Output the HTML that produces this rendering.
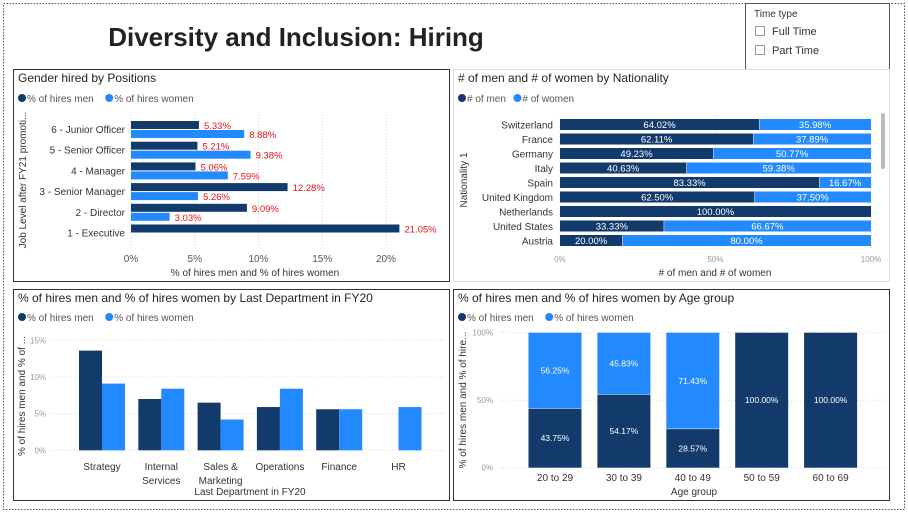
<!DOCTYPE html>
<html><head><meta charset="utf-8">
<style>
html,body{margin:0;padding:0;background:#fff;}
body{width:908px;height:514px;position:relative;overflow:hidden;font-family:"Liberation Sans",sans-serif;}
svg{position:absolute;left:0;top:0;}
text{font-family:"Liberation Sans",sans-serif;}
</style></head>
<body>
<svg id="s" width="908" height="514">
  <rect x="3.5" y="3.5" width="901" height="506" fill="none" stroke="#555" stroke-dasharray="1.5,1.5"/>
  <text x="296" y="46" text-anchor="middle" font-size="26" font-weight="bold" fill="#222">Diversity and Inclusion: Hiring</text>
  <g>
    <rect x="745.5" y="3.5" width="144" height="66" fill="#fff" stroke="#555"/>
    <text x="754" y="17" font-size="10" fill="#333">Time type</text>
    <rect x="755.5" y="26.5" width="9" height="9" fill="#fff" stroke="#999"/>
    <text x="772" y="35" font-size="11" fill="#333">Full Time</text>
    <rect x="755.5" y="45.5" width="9" height="9" fill="#fff" stroke="#999"/>
    <text x="772" y="54" font-size="11" fill="#333">Part Time</text>
  </g>
  <rect x="13.5" y="69.5" width="436" height="212" fill="none" stroke="#333"/>
  <rect x="453.5" y="69.5" width="436" height="212" fill="none" stroke="#ddd"/>
  <rect x="13.5" y="289.5" width="436" height="211" fill="none" stroke="#333"/>
  <rect x="453.5" y="289.5" width="436" height="211" fill="none" stroke="#333"/>
  <g id="g1"></g><g id="g2"></g><g id="g3"></g><g id="g4"></g>
</svg>
<script>
// Chart 1: positions
const posCats = ["6 - Junior Officer","5 - Senior Officer","4 - Manager","3 - Senior Manager","2 - Director","1 - Executive"];
const posMen = [5.33,5.21,5.06,12.28,9.09,21.05];
const posWomen = [8.88,9.38,7.59,5.26,3.03,null];
const posTicks = [0,5,10,15,20];
// Chart 2: nationality
const natCats = ["Switzerland","France","Germany","Italy","Spain","United Kingdom","Netherlands","United States","Austria"];
const natMen = [64.02,62.11,49.23,40.63,83.33,62.50,100,33.33,20.00];
const natWomen = [35.98,37.89,50.77,59.38,16.67,37.50,0,66.67,80.00];
const natTicks = [0,50,100];
// Chart 3: department
const depCats = [["Strategy"],["Internal","Services"],["Sales &","Marketing"],["Operations"],["Finance"],["HR"]];
const depMen = [13.6,7.0,6.5,5.9,5.6,null];
const depWomen = [9.1,8.4,4.2,8.4,5.6,5.9];
const depTicks = [0,5,10,15];
// Chart 4: age
const ageCats = ["20 to 29","30 to 39","40 to 49","50 to 59","60 to 69"];
const ageMen = [43.75,54.17,28.57,100,100];
const ageWomen = [56.25,45.83,71.43,0,0];
const ageTicks = [0,50,100];

const DARK="#123a6b", LIGHT="#2389ff", NS="http://www.w3.org/2000/svg";
function mk(parent,tag,attrs,txt){const e=document.createElementNS(NS,tag);for(const k in attrs)e.setAttribute(k,attrs[k]);if(txt!==undefined)e.textContent=txt;parent.appendChild(e);return e;}
function legend(g,x,y,a,b){
  let c=mk(g,"circle",{cx:x+4,cy:y-4,r:4,fill:DARK});
  
  
  let t=mk(g,"text",{x:x+9,y:y,"font-size":10,fill:"#555"},a);
  
  
  const w=a.length*5.3+13;
  c=mk(g,"circle",{cx:x+w+4,cy:y-4,r:4,fill:LIGHT});
  
  
  t=mk(g,"text",{x:x+w+9,y:y,"font-size":10,fill:"#555"},b);
  
  
}
function title(g,x,y,s){const t=mk(g,"text",{x:x,y:y,"font-size":12,fill:"#252423"},s);
  
  }
function vtitle(g,x,y,s){const t=mk(g,"text",{x:x,y:y,"font-size":10,fill:"#333","text-anchor":"middle",transform:`rotate(-90 ${x} ${y})`},s);
  
  }
function htitle(g,x,y,s){const t=mk(g,"text",{x:x,y:y,"font-size":10,fill:"#333","text-anchor":"middle"},s);
  
  }

// ---- Chart 1
(function(){
  const g=document.getElementById("g1");
  title(g,18,82,"Gender hired by Positions");
  legend(g,18,102,"% of hires men","% of hires women");
  const x=v=>131+v*12.75, rowY=i=>121+i*20.7;
  posTicks.forEach(t=>{
    const l=mk(g,"line",{x1:x(t),x2:x(t),y1:115,y2:245,stroke:"#ccc","stroke-dasharray":"1,2"});
    
    
    const tx=mk(g,"text",{x:x(t),y:262,"font-size":10,fill:"#555","text-anchor":"middle"},t+"%");
    
    
  });
  posCats.forEach((c,i)=>{
    const y=rowY(i);
    const lb=mk(g,"text",{x:125,y:y+12,"font-size":10,fill:"#333","text-anchor":"end"},c);
    
    
    const m=posMen[i];
    const r=mk(g,"rect",{x:x(0),y:y,width:x(m)-x(0),height:8,fill:DARK});
    
    
    const lt=mk(g,"text",{x:x(m)+5,y:y+8,"font-size":9.5,fill:"#e8101b"},m.toFixed(2)+"%");
    
    
    const w=posWomen[i];
    if(w!=null){
      const r2=mk(g,"rect",{x:x(0),y:y+9,width:x(w)-x(0),height:8,fill:LIGHT});
      
      
      const l2=mk(g,"text",{x:x(w)+5,y:y+17,"font-size":9.5,fill:"#e8101b"},w.toFixed(2)+"%");
      
      
    }
  });
  htitle(g,255,276,"% of hires men and % of hires women");
  vtitle(g,26,180,"Job Level after FY21 promoti...");
})();

// ---- Chart 2
(function(){
  const g=document.getElementById("g2");
  title(g,458,82,"# of men and # of women by Nationality");
  legend(g,458,102,"# of men","# of women");
  const x=v=>560+v*3.11, rowY=i=>119+i*14.5;
  natTicks.forEach(t=>{
    const l=mk(g,"line",{x1:x(t),x2:x(t),y1:115,y2:252,stroke:"#ddd","stroke-dasharray":"1,2"});
    
    
    const tx=mk(g,"text",{x:x(t),y:262,"font-size":8,fill:"#999","text-anchor":"middle"},t+"%");
    
    
  });
  natCats.forEach((c,i)=>{
    const y=rowY(i);
    const lb=mk(g,"text",{x:553,y:y+9.5,"font-size":10,fill:"#333","text-anchor":"end"},c);
    
    
    const m=natMen[i], w=natWomen[i];
    const r=mk(g,"rect",{x:x(0),y:y,width:x(m)-x(0),height:11,fill:DARK});
    
    
    const lt=mk(g,"text",{x:(x(0)+x(m))/2,y:y+9,"font-size":9.5,fill:"#fff","text-anchor":"middle"},m.toFixed(2)+"%");
    
    
    if(w>0){
      const r2=mk(g,"rect",{x:x(m)+0.5,y:y,width:x(m+w)-x(m)-0.5,height:11,fill:LIGHT});
      
      
      const l2=mk(g,"text",{x:(x(m)+x(m+w))/2,y:y+9,"font-size":9.5,fill:"#fff","text-anchor":"middle"},w.toFixed(2)+"%");
      
      
    }
  });
  const sb=mk(g,"rect",{x:881,y:113,width:4,height:56,rx:2,fill:"#bbb"});
  
  
  htitle(g,715,276,"# of men and # of women");
  vtitle(g,467,180,"Nationality 1");
})();

// ---- Chart 3
(function(){
  const g=document.getElementById("g3");
  title(g,18,302,"% of hires men and % of hires women by Last Department in FY20");
  legend(g,18,321,"% of hires men","% of hires women");
  const y=v=>450.3-v*7.33, cx=i=>102+i*59.3;
  depTicks.forEach(t=>{
    const l=mk(g,"line",{x1:50,x2:445,y1:y(t),y2:y(t),stroke:"#ddd","stroke-dasharray":"1,2"});
    
    
    const tx=mk(g,"text",{x:46,y:y(t)+3,"font-size":8,fill:"#999","text-anchor":"end"},t+"%");
    
    
  });
  depCats.forEach((c,i)=>{
    const m=depMen[i], w=depWomen[i];
    if(m!=null){
      const r=mk(g,"rect",{x:cx(i)-23,y:y(m),width:23,height:y(0)-y(m),fill:DARK});
      
      
    }
    if(w!=null){
      const r2=mk(g,"rect",{x:cx(i),y:y(w),width:23,height:y(0)-y(w),fill:LIGHT});
      
      
    }
    c.forEach((s,j)=>{
      const lb=mk(g,"text",{x:cx(i),y:470+j*14,"font-size":10,fill:"#333","text-anchor":"middle"},s);
      
      
    });
  });
  htitle(g,250,495,"Last Department in FY20");
  vtitle(g,25,396,"% of hires men and % of ...");
})();

// ---- Chart 4
(function(){
  const g=document.getElementById("g4");
  title(g,458,302,"% of hires men and % of hires women by Age group");
  legend(g,458,321,"% of hires men","% of hires women");
  const y=v=>467.7-v*1.35, cx=i=>555+i*68.9;
  ageTicks.forEach(t=>{
    const l=mk(g,"line",{x1:500,x2:886,y1:y(t),y2:y(t),stroke:"#ddd","stroke-dasharray":"1,2"});
    
    
    const tx=mk(g,"text",{x:493,y:y(t)+3,"font-size":8,fill:"#999","text-anchor":"end"},t+"%");
    
    
  });
  ageCats.forEach((c,i)=>{
    const m=ageMen[i], w=ageWomen[i];
    const r=mk(g,"rect",{x:cx(i)-26.5,y:y(m),width:53,height:y(0)-y(m),fill:DARK});
    
    
    const lt=mk(g,"text",{x:cx(i),y:(y(0)+y(m))/2+3,"font-size":8.5,fill:"#fff","text-anchor":"middle"},m.toFixed(2)+"%");
    
    
    if(w>0){
      const r2=mk(g,"rect",{x:cx(i)-26.5,y:y(m+w),width:53,height:y(m)-y(m+w)-0.5,fill:LIGHT});
      
      
      const l2=mk(g,"text",{x:cx(i),y:(y(m)+y(m+w))/2+3,"font-size":8.5,fill:"#fff","text-anchor":"middle"},w.toFixed(2)+"%");
      
      
    }
    const lb=mk(g,"text",{x:cx(i),y:481,"font-size":10,fill:"#333","text-anchor":"middle"},c);
    
    
  });
  htitle(g,694,495,"Age group");
  vtitle(g,466,400,"% of hires men and % of hire...");
})();
</script>
</body></html>
